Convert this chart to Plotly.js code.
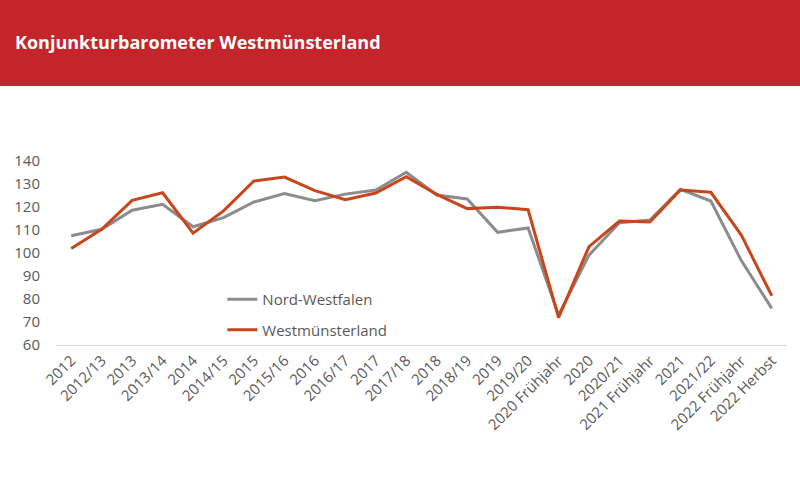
<!DOCTYPE html>
<html>
<head>
<meta charset="utf-8">
<script src="https://cdn.plot.ly/plotly-3.0.1.min.js"></script>
<style>html,body{margin:0;padding:0;background:#fff;}#chart{width:800px;height:495px;}</style>
</head>
<body>
<div id="chart"></div>
<script>
const categories = ["2012","2012/13","2013","2013/14","2014","2014/15","2015","2015/16","2016","2016/17","2017","2017/18","2018","2018/19","2019","2019/20","2020 Frühjahr","2020","2020/21","2021 Frühjahr","2021","2021/22","2022 Frühjahr","2022 Herbst"];
const nordWestfalen = [107.5,110.3,118.6,121.2,111.4,115.4,122.2,125.8,122.7,125.6,127.4,135.1,125.2,123.5,109.0,110.9,73.0,99.1,113.2,114.3,127.7,122.6,96.7,75.9];
const westmuensterland = [102.0,110.3,122.9,126.2,108.6,118.3,131.3,133.0,127.1,123.2,126.1,133.2,125.5,119.3,119.9,118.8,71.9,102.8,113.9,113.5,127.4,126.4,107.8,81.4];
const yTicks = [60,70,80,90,100,110,120,130,140];
const titleText = "Konjunkturbarometer Westmünsterland";

const traces = [
  {x: categories, y: nordWestfalen, name: "Nord-Westfalen", type: "scatter", mode: "lines",
   line: {color: "#8C8C8C", width: 3}, legendgroup: "a"},
  {x: categories, y: westmuensterland, name: "Westmünsterland", type: "scatter", mode: "lines",
   line: {color: "#C9451C", width: 3}, legendgroup: "b"}
];

const layout = {
  width: 800, height: 495,
  margin: {l: 56, r: 13, t: 161, b: 150},
  paper_bgcolor: "#fff", plot_bgcolor: "#fff",
  font: {family: "Open Sans, sans-serif", size: 15, color: "#595959"},
  title: {text: "<b>" + titleText + "</b>", font: {family: "Open Sans, sans-serif", size: 18, color: "#ffffff"},
          xref: "container", yref: "container", x: 15/800, xanchor: "left", y: 1 - 43/495, yanchor: "middle"},
  shapes: [{type: "rect", xref: "paper", yref: "paper", x0: -56/731, x1: (800-56)/731,
            y0: (345-86)/184, y1: 345/184, fillcolor: "#C3252A", line: {width: 0}, layer: "below"}],
  xaxis: {type: "category", range: [-0.5, categories.length - 0.5], tickangle: -45, showgrid: false, showline: true,
          linecolor: "#D9D9D9", linewidth: 1, ticks: "", tickfont: {size: 15, color: "#595959"},
          fixedrange: true, zeroline: false},
  yaxis: {range: [60, 140], tickvals: yTicks, showgrid: false, showline: false, zeroline: false,
          ticks: "", ticklabelstandoff: 15, tickfont: {size: 15, color: "#595959"}, fixedrange: true},
  showlegend: true,
  legend: {x: (226-56)/731 - 0.005, y: (345-283)/184, xanchor: "left", yanchor: "top", bgcolor: "rgba(0,0,0,0)",
           font: {size: 15, color: "#595959"}, itemwidth: 30, tracegroupgap: 8}
};

Plotly.newPlot("chart", traces, layout, {displayModeBar: false, staticPlot: true});
</script>
</body>
</html>
